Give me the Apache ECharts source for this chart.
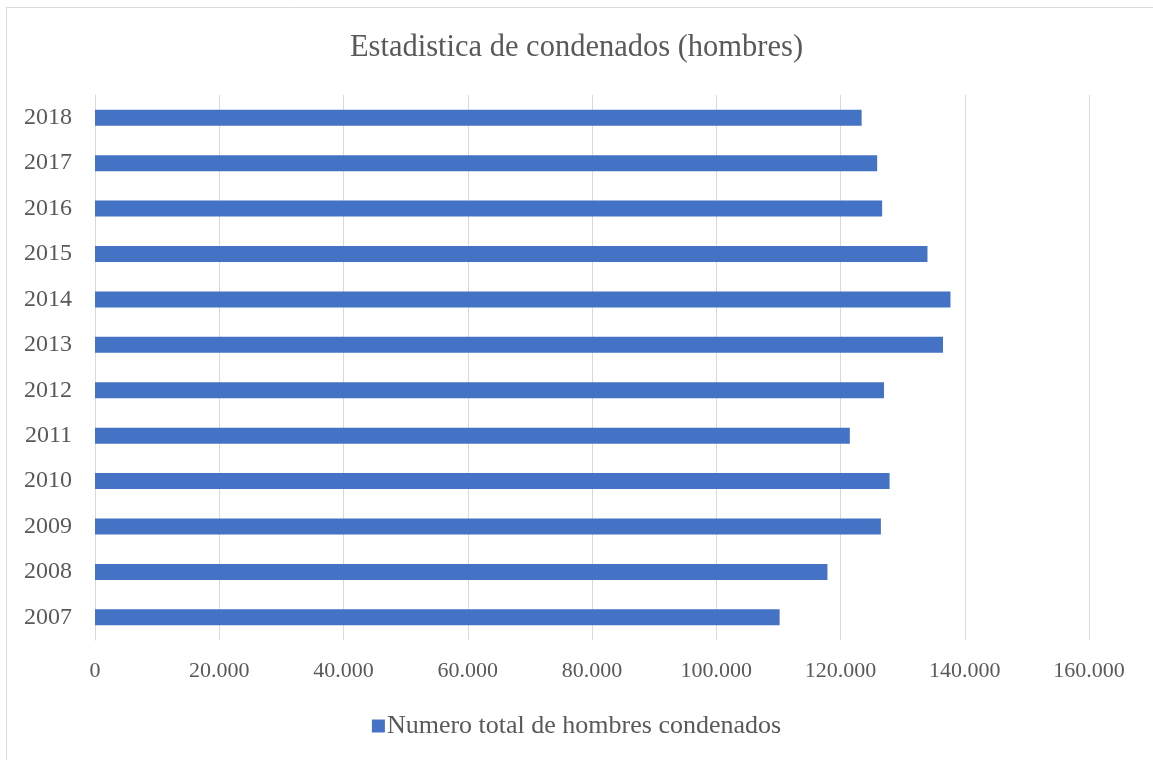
<!DOCTYPE html>
<html>
<head>
<meta charset="utf-8">
<script src="https://cdn.jsdelivr.net/npm/echarts@6/dist/echarts.min.js"></script>
<style>html,body{margin:0;padding:0;background:#fff;}#c{width:1153px;height:760px;}</style>
</head>
<body>
<div id="c"></div>
<script>
const years = ['2007','2008','2009','2010','2011','2012','2013','2014','2015','2016','2017','2018'];
const condenados = [110200, 117900, 126500, 127900, 121500, 127000, 136500, 137700, 134000, 126700, 125900, 123400];
const seriesName = 'Numero total de hombres condenados';
const titleText = 'Estadistica de condenados (hombres)';

const font = '"Liberation Serif", "DejaVu Serif", serif';
const chart = echarts.init(document.getElementById('c'));
chart.setOption({
  animation: false,
  backgroundColor: '#fff',
  graphic: [{type:'rect', shape:{x:6.5,y:7.5,width:1160,height:760}, style:{fill:'none',stroke:'#d9d9d9',lineWidth:1}, silent:true}],
  title: {text: titleText, left: 'center', top: 27, textStyle:{fontFamily:font, fontWeight:'normal', fontSize:30.5, color:'#595959'}},
  legend: {bottom: 16, left: 'center', itemWidth: 13, itemHeight: 13, itemGap: 5, icon: 'rect',
    textStyle:{fontFamily:font, fontSize:26, color:'#595959', padding:[0,0,0,-3]}},
  grid: {left: 95, right: 64, top: 95, bottom: 120},
  xAxis: {type:'value', min:0, max:160000, interval:20000,
    axisLine:{show:false}, axisTick:{show:false},
    splitLine:{lineStyle:{color:'#d9d9d9', width:1}},
    axisLabel:{margin:20, fontFamily:font, fontSize:22, color:'#595959',
      formatter: v => v === 0 ? '0' : (v/1000).toFixed(0) + '.000'}},
  yAxis: {type:'category', data: years,
    axisLine:{show:true, lineStyle:{color:'#d9d9d9'}}, axisTick:{show:false},
    axisLabel:{margin:23, fontFamily:font, fontSize:24, color:'#595959'}},
  series: [{name: seriesName, type:'bar', data: condenados, barWidth: 16,
    itemStyle:{color:'#4472c4'}}]
});
</script>
</body>
</html>
